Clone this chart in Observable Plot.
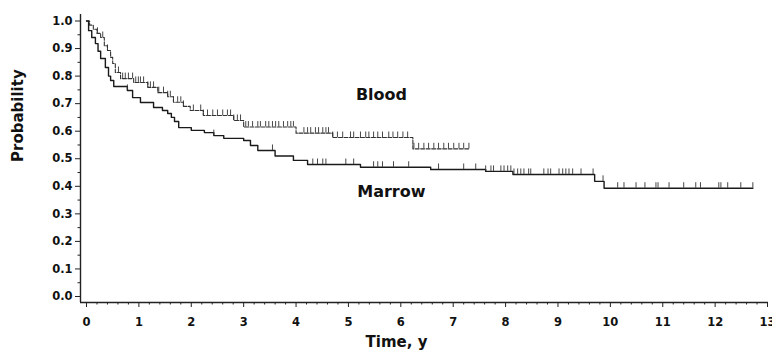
<!DOCTYPE html>
<html>
<head>
<meta charset="utf-8">
<script src="https://cdn.jsdelivr.net/npm/d3@7"></script>
<script src="https://cdn.jsdelivr.net/npm/@observablehq/plot@0.6"></script>
<style>
  html, body { margin: 0; padding: 0; background: #fff; }
</style>
</head>
<body>
<div id="chart"></div>
<script>
// ---- Data (Kaplan–Meier style step curves) ----
const seriesNames = ["Blood", "Marrow"];

// Blood: event times (years) and survival probability after each event
const bloodEventT = [0.06, 0.13, 0.20, 0.27, 0.34, 0.40, 0.46, 0.50, 0.55, 0.65, 0.90, 1.17, 1.36, 1.55, 1.66, 1.85, 1.98, 2.23, 2.81, 3.00, 4.00, 4.70, 6.23];
const bloodEventP = [0.985, 0.97, 0.955, 0.94, 0.91, 0.893, 0.868, 0.846, 0.813, 0.791, 0.777, 0.759, 0.740, 0.725, 0.705, 0.69, 0.675, 0.657, 0.639, 0.615, 0.593, 0.577, 0.536];
const bloodEndT = 7.30;
const bloodCensorT = [0.21, 0.31, 0.40, 0.61, 0.69, 0.74, 0.80, 0.88, 0.94, 0.99, 1.03, 1.09, 1.17, 1.22, 1.28, 1.38, 1.47, 1.55, 1.60, 1.66, 1.74, 1.80, 1.85, 2.04, 2.18, 2.23, 2.31, 2.41, 2.50, 2.60, 2.69, 2.75, 2.81, 2.88, 2.94, 3.04, 3.09, 3.17, 3.27, 3.32, 3.42, 3.48, 3.55, 3.61, 3.67, 3.76, 3.84, 3.90, 3.95, 4.15, 4.22, 4.28, 4.37, 4.43, 4.51, 4.57, 4.62, 4.70, 4.79, 4.89, 5.04, 5.10, 5.23, 5.33, 5.39, 5.48, 5.56, 5.65, 5.77, 5.85, 5.94, 6.04, 6.13, 6.25, 6.34, 6.44, 6.53, 6.63, 6.72, 6.82, 6.91, 7.01, 7.11, 7.20, 7.30];

// Marrow
const marrowEventT = [0.04, 0.10, 0.17, 0.22, 0.27, 0.36, 0.42, 0.46, 0.52, 0.78, 0.88, 1.03, 1.28, 1.45, 1.55, 1.62, 1.68, 1.76, 2.00, 2.25, 2.43, 2.62, 3.00, 3.13, 3.27, 3.60, 3.95, 4.22, 5.23, 6.57, 7.62, 8.14, 9.70, 9.88];
const marrowEventP = [0.965, 0.94, 0.918, 0.89, 0.864, 0.831, 0.80, 0.784, 0.762, 0.748, 0.722, 0.704, 0.686, 0.675, 0.664, 0.65, 0.635, 0.613, 0.603, 0.595, 0.584, 0.574, 0.566, 0.548, 0.530, 0.51, 0.494, 0.479, 0.469, 0.461, 0.454, 0.443, 0.418, 0.393];
const marrowEndT = 12.72;
const marrowCensorT = [0.78, 2.43, 3.55, 4.32, 4.41, 4.51, 4.57, 4.95, 5.10, 5.48, 5.56, 5.65, 5.86, 6.15, 6.72, 7.20, 7.43, 7.62, 7.72, 7.77, 7.91, 7.97, 8.04, 8.10, 8.16, 8.23, 8.29, 8.35, 8.44, 8.48, 8.73, 8.81, 8.86, 9.02, 9.09, 9.15, 9.21, 9.28, 9.44, 9.67, 9.86, 10.14, 10.26, 10.49, 10.66, 10.87, 10.91, 11.12, 11.40, 11.63, 11.72, 12.07, 12.11, 12.24, 12.49, 12.72];

// Curve label anchors (data units)
const labelT = [5.63, 5.82];
const labelP = [0.732, 0.380];

// Axis ticks
const xTicks = d3.range(0, 14);
const yTicks = d3.range(0, 11).map(i => i / 10);
const xMinorTicks = d3.range(0, 66).map(i => i / 5).filter(v => Math.abs(v - Math.round(v)) > 1e-6);
const yMinorTicks = d3.range(0, 10).map(i => i / 10 + 0.05);

const xDomain = [-0.1146, 13.0186];
const yDomain = [-0.0218, 1.0236];

// ---- Build step data ----
function stepSeries(name, evT, evP, endT) {
  const pts = [{series: name, t: 0, p: 1}];
  evT.forEach((t, i) => pts.push({series: name, t, p: evP[i]}));
  pts.push({series: name, t: endT, p: evP[evP.length - 1]});
  return pts;
}
function survivalAt(evT, evP, t) {
  let p = 1;
  for (let i = 0; i < evT.length; i++) if (evT[i] <= t) p = evP[i];
  return p;
}
function censorSeries(name, cT, evT, evP) {
  return cT.map(t => ({series: name, t, p: survivalAt(evT, evP, t)}));
}

const blood = stepSeries(seriesNames[0], bloodEventT, bloodEventP, bloodEndT);
const marrow = stepSeries(seriesNames[1], marrowEventT, marrowEventP, marrowEndT);
const bloodCens = censorSeries(seriesNames[0], bloodCensorT, bloodEventT, bloodEventP);
const marrowCens = censorSeries(seriesNames[1], marrowCensorT, marrowEventT, marrowEventP);
const labels = seriesNames.map((s, i) => ({s, t: labelT[i], p: labelP[i]}));
const censorLen = 0.02;

const chart = Plot.plot({
  width: 772,
  height: 358,
  marginLeft: 80,
  marginRight: 4,
  marginTop: 14,
  marginBottom: 56,
  style: {fontFamily: "DejaVu Sans, Arial, sans-serif", fontSize: "11.5px", fontWeight: "bold", color: "#111", background: "#fff"},
  x: {domain: xDomain},
  y: {domain: yDomain},
  marks: [
    // axis lines
    Plot.ruleX([xDomain[0]], {stroke: "#222", strokeWidth: 1.4}),
    Plot.ruleY([yDomain[0]], {stroke: "#222", strokeWidth: 1.4}),
    // y axis
    Plot.axisY(yTicks, {anchor: "left", tickSize: 5, tickPadding: 3, tickFormat: d3.format(".1f"), label: null, stroke: "#222"}),
    Plot.axisY(yMinorTicks, {anchor: "left", tickSize: 2.5, tickFormat: null, text: null, label: null, stroke: "#222"}),
    // x axis
    Plot.axisX(xTicks, {anchor: "bottom", tickSize: 5, tickPadding: 10, tickFormat: d3.format("d"), label: null, stroke: "#222"}),
    Plot.axisX(xMinorTicks, {anchor: "bottom", tickSize: 2.5, tickFormat: null, text: null, label: null, stroke: "#222"}),
    // curves
    Plot.line(blood, {x: "t", y: "p", curve: "step-after", stroke: "#333", strokeWidth: 1.1, strokeDasharray: "4,1.5"}),
    Plot.line(marrow, {x: "t", y: "p", curve: "step-after", stroke: "#1a1a1a", strokeWidth: 1.4}),
    // censor marks
    Plot.ruleX(bloodCens, {x: "t", y1: "p", y2: d => d.p + censorLen, stroke: "#333", strokeWidth: 0.9}),
    Plot.ruleX(marrowCens, {x: "t", y1: "p", y2: d => d.p + censorLen, stroke: "#333", strokeWidth: 0.9}),
    // curve labels
    Plot.text(labels, {x: "t", y: "p", text: "s", fontSize: 16, fontWeight: "bold", fill: "#111"}),
    // axis titles
    Plot.text(["Probability"], {frameAnchor: "left", text: d => d, rotate: -90, dx: -62, dy: 3.5, fontSize: 15, fontWeight: "bold", fill: "#111"}),
    Plot.text(["Time, y"], {frameAnchor: "bottom", text: d => d, dx: -28, dy: 44.7, fontSize: 15, fontWeight: "bold", fill: "#111"})
  ]
});
document.getElementById("chart").appendChild(chart);
</script>
</body>
</html>
